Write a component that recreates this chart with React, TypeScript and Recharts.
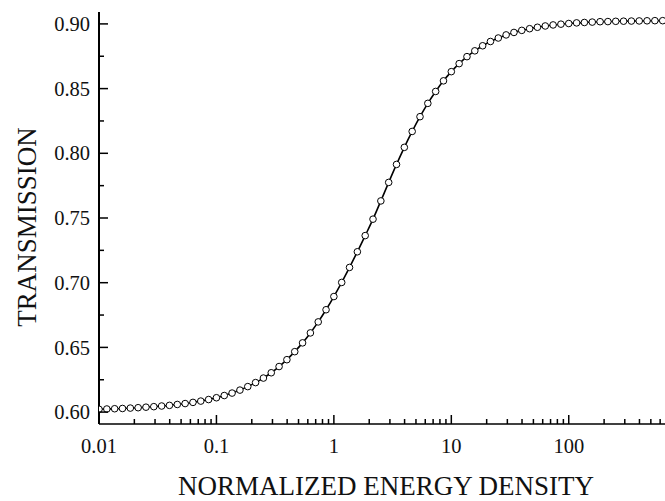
import { ComposedChart, Line, XAxis, YAxis } from "recharts";

// energy density (log spaced)
const energy = [
  0.01, 0.01166, 0.01359, 0.01585, 0.01848, 0.02154, 0.02512, 0.02929, 0.03415, 0.03981, 0.04642, 0.05412, 0.0631, 0.07356, 0.08577,
  0.1, 0.1166, 0.1359, 0.1585, 0.1848, 0.2154, 0.2512, 0.2929, 0.3415, 0.3981, 0.4642, 0.5412, 0.631, 0.7356, 0.8577,
  1, 1.166, 1.359, 1.585, 1.848, 2.154, 2.512, 2.929, 3.415, 3.981, 4.642, 5.412, 6.31, 7.356, 8.577,
  10, 11.66, 13.59, 15.85, 18.48, 21.54, 25.12, 29.29, 34.15, 39.81, 46.42, 54.12, 63.1, 73.56, 85.77,
  100, 116.6, 135.9, 158.5, 184.8, 215.4, 251.2, 292.9, 341.5, 398.1, 464.2, 541.2, 631,
];

const transmission = [
  0.6022, 0.6024, 0.6026, 0.6028, 0.6031, 0.6034, 0.6038, 0.6042, 0.6047, 0.6052, 0.6059, 0.6066, 0.6075, 0.6085, 0.6097,
  0.6111, 0.6128, 0.6147, 0.617, 0.6197, 0.6228, 0.6263, 0.6304, 0.6352, 0.6405, 0.6467, 0.6535, 0.6612, 0.6697, 0.6791,
  0.6893, 0.7002, 0.7118, 0.7239, 0.7364, 0.7491, 0.7632, 0.7775, 0.7914, 0.8046, 0.8169, 0.8283, 0.8386, 0.8478, 0.856,
  0.8631, 0.8693, 0.8747, 0.8792, 0.8831, 0.8864, 0.8891, 0.8915, 0.8934, 0.895, 0.8963, 0.8974, 0.8984, 0.8992, 0.8998,
  0.9003, 0.9008, 0.9011, 0.9014, 0.9017, 0.9018, 0.902, 0.9021, 0.9022, 0.9023, 0.9024, 0.9025, 0.9025,
];

const xMajor = [0.01, 0.1, 1, 10, 100];
const xMajorLabels = ["0.01", "0.1", "1", "10", "100"];
const yMajor = [0.6, 0.65, 0.7, 0.75, 0.8, 0.85, 0.9];
const yMinor = [0.625, 0.675, 0.725, 0.775, 0.825, 0.875];

const xMinor: number[] = [];
[0.01, 0.1, 1, 10, 100].forEach((d) => {
  for (let m = 2; m <= 9; m++) {
    if (d * m <= 660) xMinor.push(d * m);
  }
});

const data = energy.map((e, i) => ({ e, t: transmission[i] }));

const FONT = "'Liberation Serif', 'DejaVu Serif', serif";

const isMajorX = (v: number) => xMajor.findIndex((m) => Math.abs(v - m) / m < 1e-6);

function BottomTick(props: any) {
  const { x, y, payload } = props;
  const idx = isMajorX(payload.value);
  return (
    <g>
      <line x1={x} x2={x} y1={y} y2={y - (idx >= 0 ? 9 : 5)} stroke="#000" strokeWidth={1.5} />
      {idx >= 0 && (
        <text x={x} y={y + 29} textAnchor="middle" fontFamily={FONT} fontSize={20.5} fill="#111">
          {xMajorLabels[idx]}
        </text>
      )}
    </g>
  );
}

function TopTick(props: any) {
  const { x, y, payload } = props;
  const major = isMajorX(payload.value) >= 0;
  return <line x1={x} x2={x} y1={y} y2={y + (major ? 9 : 5)} stroke="#000" strokeWidth={1.5} />;
}

function LeftTick(props: any) {
  const { x, y, payload } = props;
  const major = yMajor.some((m) => Math.abs(m - payload.value) < 1e-6);
  return (
    <g>
      <line x1={x} x2={x + (major ? 9 : 5)} y1={y} y2={y} stroke="#000" strokeWidth={1.5} />
      {major && (
        <text x={x - 9} y={y} dy="0.35em" textAnchor="end" fontFamily={FONT} fontSize={20.5} fill="#111">
          {payload.value.toFixed(2)}
        </text>
      )}
    </g>
  );
}

export default function App() {
  return (
    <div style={{ position: "absolute", left: 0, top: 0, width: 665, height: 501, background: "#fff", overflow: "hidden" }}>
      <ComposedChart width={665} height={501} data={data} margin={{ top: 12, right: 0, bottom: 0, left: 0 }}>
        <XAxis
          dataKey="e"
          type="number"
          scale="log"
          domain={[0.01, 660]}
          allowDataOverflow
          ticks={[...xMajor, ...xMinor]}
          interval={0}
          tick={<BottomTick />}
          tickLine={false}
          tickSize={0}
          tickMargin={0}
          height={77}
          axisLine={{ stroke: "#000", strokeWidth: 1.5 }}
        />
        <XAxis
          xAxisId="top"
          orientation="top"
          dataKey="e"
          type="number"
          scale="log"
          domain={[0.01, 660]}
          allowDataOverflow
          ticks={[...xMajor, ...xMinor]}
          interval={0}
          tick={<TopTick />}
          tickLine={false}
          tickSize={0}
          tickMargin={0}
          height={0}
          axisLine={{ stroke: "#000", strokeWidth: 2 }}
        />
        <YAxis
          type="number"
          domain={[0.5908, 0.9092]}
          allowDataOverflow
          ticks={[...yMajor, ...yMinor]}
          interval={0}
          tick={<LeftTick />}
          tickLine={false}
          tickSize={0}
          tickMargin={0}
          width={99}
          axisLine={{ stroke: "#000", strokeWidth: 2 }}
        />
        <Line
          dataKey="t"
          type="monotone"
          stroke="#000"
          strokeWidth={1.6}
          dot={{ r: 3.3, fill: "#fff", stroke: "#000", strokeWidth: 1 }}
          isAnimationActive={false}
        />
        <text
          x={0}
          y={0}
          transform="translate(36 227) rotate(-90)"
          textAnchor="middle"
          fontFamily={FONT}
          fontSize={27}
          fill="#111"
        >
          TRANSMISSION
        </text>
        <text x={386} y={495} textAnchor="middle" fontFamily={FONT} fontSize={27} fill="#111">
          NORMALIZED ENERGY DENSITY
        </text>
      </ComposedChart>
    </div>
  );
}
